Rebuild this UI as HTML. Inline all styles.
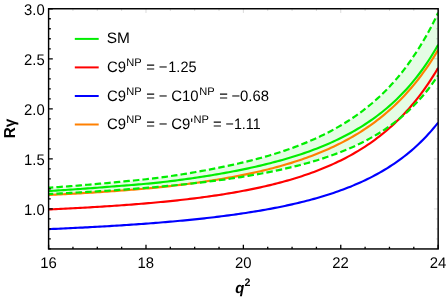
<!DOCTYPE html>
<html><head><meta charset="utf-8"><title>chart</title>
<style>
html,body{margin:0;padding:0;background:#fff;}
body{width:447px;height:298px;overflow:hidden;}
svg{display:block;}
text{font-family:"Liberation Sans",sans-serif;fill:#000;text-rendering:geometricPrecision;}
.t{font-size:15.4px;}
.s{font-size:11.0px;}
.l{font-size:15.1px;}
.b{font-weight:bold;}
</style></head><body>
<svg width="447" height="298" viewBox="0 0 447 298">
<rect x="0" y="0" width="447" height="298" fill="#ffffff"/>
<defs><clipPath id="cp"><rect x="48.6" y="8.75" width="389.54999999999995" height="240.2"/></clipPath></defs>
<g clip-path="url(#cp)" fill="none" stroke-linejoin="round">
<path d="M48.60,187.72 L51.03,187.56 L53.47,187.39 L55.90,187.22 L58.34,187.04 L60.77,186.87 L63.21,186.69 L65.64,186.51 L68.08,186.32 L70.51,186.14 L72.95,185.95 L75.38,185.76 L77.82,185.56 L80.25,185.37 L82.69,185.17 L85.12,184.97 L87.56,184.77 L89.99,184.56 L92.42,184.35 L94.86,184.14 L97.29,183.92 L99.73,183.70 L102.16,183.48 L104.60,183.26 L107.03,183.03 L109.47,182.80 L111.90,182.57 L114.34,182.34 L116.77,182.12 L119.21,181.89 L121.64,181.66 L124.08,181.43 L126.51,181.20 L128.94,180.97 L131.38,180.73 L133.81,180.49 L136.25,180.25 L138.68,180.00 L141.12,179.74 L143.55,179.49 L145.99,179.22 L148.42,178.95 L150.86,178.67 L153.29,178.38 L155.73,178.08 L158.16,177.78 L160.60,177.46 L163.03,177.14 L165.46,176.81 L167.90,176.47 L170.33,176.12 L172.77,175.77 L175.20,175.41 L177.64,175.04 L180.07,174.66 L182.51,174.27 L184.94,173.88 L187.38,173.48 L189.81,173.08 L192.25,172.66 L194.68,172.24 L197.12,171.82 L199.55,171.38 L201.99,170.94 L204.42,170.49 L206.85,170.04 L209.29,169.58 L211.72,169.11 L214.16,168.64 L216.59,168.16 L219.03,167.67 L221.46,167.17 L223.90,166.67 L226.33,166.17 L228.77,165.65 L231.20,165.13 L233.64,164.60 L236.07,164.06 L238.51,163.50 L240.94,162.94 L243.37,162.37 L245.81,161.78 L248.24,161.18 L250.68,160.57 L253.11,159.95 L255.55,159.32 L257.98,158.67 L260.42,158.01 L262.85,157.34 L265.29,156.65 L267.72,155.95 L270.16,155.23 L272.59,154.50 L275.03,153.75 L277.46,152.99 L279.90,152.21 L282.33,151.41 L284.76,150.59 L287.20,149.76 L289.63,148.91 L292.07,148.04 L294.50,147.14 L296.94,146.23 L299.37,145.30 L301.81,144.34 L304.24,143.37 L306.68,142.37 L309.11,141.34 L311.55,140.30 L313.98,139.22 L316.42,138.12 L318.85,136.99 L321.29,135.84 L323.72,134.65 L326.15,133.44 L328.59,132.19 L331.02,130.92 L333.46,129.61 L335.89,128.26 L338.33,126.88 L340.76,125.46 L343.20,124.01 L345.63,122.51 L348.07,120.97 L350.50,119.39 L352.94,117.77 L355.37,116.10 L357.81,114.38 L360.24,112.62 L362.67,110.80 L365.11,108.93 L367.54,107.00 L369.98,105.02 L372.41,102.97 L374.85,100.86 L377.28,98.69 L379.72,96.45 L382.15,94.14 L384.59,91.75 L387.02,89.29 L389.46,86.75 L391.89,84.12 L394.33,81.40 L396.76,78.60 L399.19,75.69 L401.63,72.69 L404.06,69.58 L406.50,66.36 L408.93,63.02 L411.37,59.57 L413.80,55.98 L416.24,52.29 L418.67,48.49 L421.11,44.57 L423.54,40.53 L425.98,36.34 L428.41,32.00 L430.85,27.48 L433.28,22.77 L435.72,17.85 L438.15,12.70 L438.15,75.38 L435.72,79.00 L433.28,82.46 L430.85,85.78 L428.41,88.96 L425.98,92.02 L423.54,94.95 L421.11,97.77 L418.67,100.47 L416.24,103.08 L413.80,105.58 L411.37,108.00 L408.93,110.32 L406.50,112.56 L404.06,114.72 L401.63,116.81 L399.19,118.82 L396.76,120.77 L394.33,122.65 L391.89,124.46 L389.46,126.22 L387.02,127.92 L384.59,129.56 L382.15,131.15 L379.72,132.69 L377.28,134.19 L374.85,135.63 L372.41,137.04 L369.98,138.40 L367.54,139.72 L365.11,141.00 L362.67,142.25 L360.24,143.46 L357.81,144.63 L355.37,145.78 L352.94,146.89 L350.50,147.97 L348.07,149.02 L345.63,150.04 L343.20,151.03 L340.76,152.00 L338.33,152.94 L335.89,153.86 L333.46,154.76 L331.02,155.63 L328.59,156.48 L326.15,157.31 L323.72,158.12 L321.29,158.91 L318.85,159.68 L316.42,160.43 L313.98,161.16 L311.55,161.88 L309.11,162.57 L306.68,163.26 L304.24,163.92 L301.81,164.58 L299.37,165.21 L296.94,165.83 L294.50,166.44 L292.07,167.04 L289.63,167.62 L287.20,168.19 L284.76,168.75 L282.33,169.29 L279.90,169.83 L277.46,170.35 L275.03,170.86 L272.59,171.36 L270.16,171.85 L267.72,172.33 L265.29,172.81 L262.85,173.27 L260.42,173.72 L257.98,174.16 L255.55,174.60 L253.11,175.02 L250.68,175.44 L248.24,175.85 L245.81,176.25 L243.37,176.65 L240.94,177.04 L238.51,177.42 L236.07,177.79 L233.64,178.15 L231.20,178.51 L228.77,178.87 L226.33,179.21 L223.90,179.55 L221.46,179.89 L219.03,180.21 L216.59,180.54 L214.16,180.85 L211.72,181.16 L209.29,181.47 L206.85,181.77 L204.42,182.07 L201.99,182.36 L199.55,182.64 L197.12,182.92 L194.68,183.20 L192.25,183.47 L189.81,183.74 L187.38,184.00 L184.94,184.26 L182.51,184.51 L180.07,184.76 L177.64,185.01 L175.20,185.25 L172.77,185.49 L170.33,185.73 L167.90,185.96 L165.46,186.19 L163.03,186.41 L160.60,186.63 L158.16,186.85 L155.73,187.06 L153.29,187.27 L150.86,187.48 L148.42,187.69 L145.99,187.89 L143.55,188.09 L141.12,188.28 L138.68,188.47 L136.25,188.66 L133.81,188.85 L131.38,189.04 L128.94,189.22 L126.51,189.40 L124.08,189.58 L121.64,189.75 L119.21,189.92 L116.77,190.09 L114.34,190.26 L111.90,190.42 L109.47,190.59 L107.03,190.75 L104.60,190.91 L102.16,191.06 L99.73,191.22 L97.29,191.37 L94.86,191.52 L92.42,191.67 L89.99,191.81 L87.56,191.96 L85.12,192.10 L82.69,192.24 L80.25,192.38 L77.82,192.52 L75.38,192.65 L72.95,192.79 L70.51,192.92 L68.08,193.05 L65.64,193.18 L63.21,193.30 L60.77,193.43 L58.34,193.55 L55.90,193.68 L53.47,193.80 L51.03,193.92 L48.60,194.03Z" fill="#e5fce5" stroke="none"/>
<path d="M48.60,229.14 L51.03,229.04 L53.47,228.94 L55.90,228.83 L58.34,228.72 L60.77,228.61 L63.21,228.50 L65.64,228.39 L68.08,228.27 L70.51,228.16 L72.95,228.04 L75.38,227.92 L77.82,227.80 L80.25,227.68 L82.69,227.56 L85.12,227.43 L87.56,227.31 L89.99,227.18 L92.42,227.05 L94.86,226.92 L97.29,226.78 L99.73,226.65 L102.16,226.51 L104.60,226.37 L107.03,226.23 L109.47,226.08 L111.90,225.94 L114.34,225.79 L116.77,225.64 L119.21,225.48 L121.64,225.33 L124.08,225.17 L126.51,225.01 L128.94,224.85 L131.38,224.69 L133.81,224.52 L136.25,224.35 L138.68,224.18 L141.12,224.00 L143.55,223.83 L145.99,223.65 L148.42,223.46 L150.86,223.28 L153.29,223.09 L155.73,222.90 L158.16,222.70 L160.60,222.50 L163.03,222.30 L165.46,222.10 L167.90,221.89 L170.33,221.68 L172.77,221.46 L175.20,221.25 L177.64,221.02 L180.07,220.80 L182.51,220.57 L184.94,220.34 L187.38,220.10 L189.81,219.86 L192.25,219.61 L194.68,219.36 L197.12,219.11 L199.55,218.85 L201.99,218.59 L204.42,218.32 L206.85,218.05 L209.29,217.77 L211.72,217.49 L214.16,217.20 L216.59,216.91 L219.03,216.61 L221.46,216.30 L223.90,216.00 L226.33,215.68 L228.77,215.36 L231.20,215.03 L233.64,214.70 L236.07,214.36 L238.51,214.01 L240.94,213.66 L243.37,213.30 L245.81,212.94 L248.24,212.56 L250.68,212.18 L253.11,211.79 L255.55,211.40 L257.98,210.99 L260.42,210.58 L262.85,210.16 L265.29,209.73 L267.72,209.29 L270.16,208.84 L272.59,208.38 L275.03,207.92 L277.46,207.44 L279.90,206.95 L282.33,206.45 L284.76,205.94 L287.20,205.42 L289.63,204.89 L292.07,204.35 L294.50,203.79 L296.94,203.23 L299.37,202.65 L301.81,202.05 L304.24,201.44 L306.68,200.82 L309.11,200.19 L311.55,199.53 L313.98,198.87 L316.42,198.19 L318.85,197.49 L321.29,196.77 L323.72,196.04 L326.15,195.28 L328.59,194.51 L331.02,193.72 L333.46,192.91 L335.89,192.08 L338.33,191.23 L340.76,190.36 L343.20,189.46 L345.63,188.54 L348.07,187.60 L350.50,186.63 L352.94,185.63 L355.37,184.61 L357.81,183.56 L360.24,182.47 L362.67,181.36 L365.11,180.22 L367.54,179.05 L369.98,177.84 L372.41,176.59 L374.85,175.31 L377.28,173.99 L379.72,172.64 L382.15,171.24 L384.59,169.80 L387.02,168.31 L389.46,166.78 L391.89,165.20 L394.33,163.57 L396.76,161.89 L399.19,160.15 L401.63,158.36 L404.06,156.50 L406.50,154.59 L408.93,152.61 L411.37,150.56 L413.80,148.45 L416.24,146.26 L418.67,143.99 L421.11,141.64 L423.54,139.20 L425.98,136.68 L428.41,134.07 L430.85,131.35 L433.28,128.53 L435.72,125.61 L438.15,122.57" stroke="#0000ff" stroke-width="2.15"/>
<path d="M48.60,209.42 L51.03,209.31 L53.47,209.20 L55.90,209.09 L58.34,208.97 L60.77,208.86 L63.21,208.74 L65.64,208.62 L68.08,208.50 L70.51,208.38 L72.95,208.26 L75.38,208.13 L77.82,208.00 L80.25,207.87 L82.69,207.74 L85.12,207.60 L87.56,207.47 L89.99,207.33 L92.42,207.19 L94.86,207.04 L97.29,206.90 L99.73,206.75 L102.16,206.60 L104.60,206.44 L107.03,206.29 L109.47,206.13 L111.90,205.96 L114.34,205.80 L116.77,205.63 L119.21,205.46 L121.64,205.29 L124.08,205.11 L126.51,204.93 L128.94,204.75 L131.38,204.56 L133.81,204.37 L136.25,204.18 L138.68,203.99 L141.12,203.79 L143.55,203.58 L145.99,203.38 L148.42,203.17 L150.86,202.95 L153.29,202.73 L155.73,202.51 L158.16,202.28 L160.60,202.05 L163.03,201.82 L165.46,201.58 L167.90,201.33 L170.33,201.08 L172.77,200.83 L175.20,200.57 L177.64,200.31 L180.07,200.04 L182.51,199.77 L184.94,199.49 L187.38,199.20 L189.81,198.91 L192.25,198.62 L194.68,198.32 L197.12,198.01 L199.55,197.70 L201.99,197.38 L204.42,197.05 L206.85,196.72 L209.29,196.38 L211.72,196.03 L214.16,195.68 L216.59,195.32 L219.03,194.95 L221.46,194.57 L223.90,194.19 L226.33,193.79 L228.77,193.39 L231.20,192.99 L233.64,192.57 L236.07,192.14 L238.51,191.71 L240.94,191.26 L243.37,190.81 L245.81,190.34 L248.24,189.87 L250.68,189.38 L253.11,188.88 L255.55,188.38 L257.98,187.86 L260.42,187.33 L262.85,186.78 L265.29,186.23 L267.72,185.66 L270.16,185.08 L272.59,184.49 L275.03,183.88 L277.46,183.26 L279.90,182.62 L282.33,181.97 L284.76,181.30 L287.20,180.62 L289.63,179.92 L292.07,179.20 L294.50,178.47 L296.94,177.72 L299.37,176.95 L301.81,176.16 L304.24,175.35 L306.68,174.52 L309.11,173.67 L311.55,172.80 L313.98,171.91 L316.42,170.99 L318.85,170.05 L321.29,169.09 L323.72,168.10 L326.15,167.09 L328.59,166.05 L331.02,164.98 L333.46,163.88 L335.89,162.75 L338.33,161.59 L340.76,160.41 L343.20,159.19 L345.63,157.93 L348.07,156.64 L350.50,155.32 L352.94,153.95 L355.37,152.55 L357.81,151.11 L360.24,149.63 L362.67,148.11 L365.11,146.54 L367.54,144.93 L369.98,143.27 L372.41,141.56 L374.85,139.80 L377.28,137.98 L379.72,136.12 L382.15,134.19 L384.59,132.21 L387.02,130.17 L389.46,128.06 L391.89,125.89 L394.33,123.65 L396.76,121.33 L399.19,118.95 L401.63,116.49 L404.06,113.95 L406.50,111.32 L408.93,108.61 L411.37,105.81 L413.80,102.92 L416.24,99.93 L418.67,96.84 L421.11,93.64 L423.54,90.34 L425.98,86.92 L428.41,83.38 L430.85,79.72 L433.28,75.92 L435.72,71.99 L438.15,67.92" stroke="#ff0000" stroke-width="2.15"/>
<path d="M48.60,195.01 L51.03,194.89 L53.47,194.77 L55.90,194.65 L58.34,194.52 L60.77,194.40 L63.21,194.27 L65.64,194.14 L68.08,194.01 L70.51,193.87 L72.95,193.74 L75.38,193.60 L77.82,193.46 L80.25,193.32 L82.69,193.18 L85.12,193.03 L87.56,192.88 L89.99,192.73 L92.42,192.58 L94.86,192.42 L97.29,192.26 L99.73,192.10 L102.16,191.94 L104.60,191.77 L107.03,191.61 L109.47,191.44 L111.90,191.26 L114.34,191.09 L116.77,190.91 L119.21,190.73 L121.64,190.55 L124.08,190.37 L126.51,190.18 L128.94,189.99 L131.38,189.79 L133.81,189.60 L136.25,189.40 L138.68,189.19 L141.12,188.98 L143.55,188.77 L145.99,188.55 L148.42,188.33 L150.86,188.10 L153.29,187.87 L155.73,187.63 L158.16,187.38 L160.60,187.14 L163.03,186.88 L165.46,186.62 L167.90,186.35 L170.33,186.08 L172.77,185.80 L175.20,185.51 L177.64,185.22 L180.07,184.92 L182.51,184.62 L184.94,184.32 L187.38,184.00 L189.81,183.68 L192.25,183.36 L194.68,183.03 L197.12,182.69 L199.55,182.35 L201.99,182.00 L204.42,181.65 L206.85,181.28 L209.29,180.91 L211.72,180.54 L214.16,180.15 L216.59,179.76 L219.03,179.36 L221.46,178.95 L223.90,178.54 L226.33,178.11 L228.77,177.68 L231.20,177.24 L233.64,176.79 L236.07,176.33 L238.51,175.86 L240.94,175.39 L243.37,174.90 L245.81,174.40 L248.24,173.89 L250.68,173.37 L253.11,172.84 L255.55,172.30 L257.98,171.75 L260.42,171.19 L262.85,170.61 L265.29,170.02 L267.72,169.42 L270.16,168.80 L272.59,168.17 L275.03,167.53 L277.46,166.87 L279.90,166.20 L282.33,165.51 L284.76,164.81 L287.20,164.09 L289.63,163.36 L292.07,162.61 L294.50,161.84 L296.94,161.05 L299.37,160.24 L301.81,159.42 L304.24,158.57 L306.68,157.71 L309.11,156.82 L311.55,155.92 L313.98,154.99 L316.42,154.03 L318.85,153.06 L321.29,152.06 L323.72,151.04 L326.15,149.99 L328.59,148.91 L331.02,147.80 L333.46,146.67 L335.89,145.51 L338.33,144.32 L340.76,143.09 L343.20,141.84 L345.63,140.55 L348.07,139.23 L350.50,137.87 L352.94,136.47 L355.37,135.04 L357.81,133.57 L360.24,132.06 L362.67,130.50 L365.11,128.90 L367.54,127.26 L369.98,125.57 L372.41,123.83 L374.85,122.04 L377.28,120.20 L379.72,118.31 L382.15,116.36 L384.59,114.35 L387.02,112.28 L389.46,110.15 L391.89,107.96 L394.33,105.70 L396.76,103.36 L399.19,100.96 L401.63,98.48 L404.06,95.92 L406.50,93.28 L408.93,90.56 L411.37,87.75 L413.80,84.84 L416.24,81.85 L418.67,78.75 L421.11,75.54 L423.54,72.23 L425.98,68.81 L428.41,65.27 L430.85,61.61 L433.28,57.82 L435.72,53.89 L438.15,49.83" stroke="#ff8000" stroke-width="2.15"/>
<path d="M48.60,191.00 L51.03,190.85 L53.47,190.71 L55.90,190.56 L58.34,190.41 L60.77,190.26 L63.21,190.10 L65.64,189.95 L68.08,189.79 L70.51,189.63 L72.95,189.46 L75.38,189.30 L77.82,189.13 L80.25,188.96 L82.69,188.79 L85.12,188.62 L87.56,188.44 L89.99,188.26 L92.42,188.08 L94.86,187.90 L97.29,187.71 L99.73,187.52 L102.16,187.33 L104.60,187.14 L107.03,186.94 L109.47,186.75 L111.90,186.55 L114.34,186.36 L116.77,186.17 L119.21,185.98 L121.64,185.79 L124.08,185.61 L126.51,185.42 L128.94,185.22 L131.38,185.03 L133.81,184.83 L136.25,184.64 L138.68,184.43 L141.12,184.22 L143.55,184.01 L145.99,183.79 L148.42,183.56 L150.86,183.33 L153.29,183.09 L155.73,182.84 L158.16,182.58 L160.60,182.31 L163.03,182.03 L165.46,181.75 L167.90,181.46 L170.33,181.16 L172.77,180.86 L175.20,180.56 L177.64,180.24 L180.07,179.92 L182.51,179.60 L184.94,179.27 L187.38,178.93 L189.81,178.59 L192.25,178.24 L194.68,177.88 L197.12,177.52 L199.55,177.15 L201.99,176.78 L204.42,176.40 L206.85,176.01 L209.29,175.62 L211.72,175.22 L214.16,174.81 L216.59,174.40 L219.03,173.98 L221.46,173.55 L223.90,173.12 L226.33,172.68 L228.77,172.23 L231.20,171.78 L233.64,171.31 L236.07,170.84 L238.51,170.36 L240.94,169.87 L243.37,169.37 L245.81,168.86 L248.24,168.34 L250.68,167.81 L253.11,167.27 L255.55,166.71 L257.98,166.15 L260.42,165.58 L262.85,165.00 L265.29,164.41 L267.72,163.80 L270.16,163.18 L272.59,162.56 L275.03,161.91 L277.46,161.26 L279.90,160.59 L282.33,159.92 L284.76,159.22 L287.20,158.52 L289.63,157.79 L292.07,157.06 L294.50,156.30 L296.94,155.53 L299.37,154.74 L301.81,153.94 L304.24,153.11 L306.68,152.27 L309.11,151.40 L311.55,150.52 L313.98,149.61 L316.42,148.69 L318.85,147.74 L321.29,146.76 L323.72,145.77 L326.15,144.75 L328.59,143.70 L331.02,142.63 L333.46,141.53 L335.89,140.40 L338.33,139.24 L340.76,138.05 L343.20,136.83 L345.63,135.58 L348.07,134.30 L350.50,132.98 L352.94,131.62 L355.37,130.23 L357.81,128.80 L360.24,127.33 L362.67,125.81 L365.11,124.26 L367.54,122.66 L369.98,121.01 L372.41,119.31 L374.85,117.56 L377.28,115.76 L379.72,113.91 L382.15,111.99 L384.59,110.02 L387.02,107.99 L389.46,105.89 L391.89,103.73 L394.33,101.49 L396.76,99.19 L399.19,96.80 L401.63,94.34 L404.06,91.79 L406.50,89.15 L408.93,86.42 L411.37,83.60 L413.80,80.68 L416.24,77.65 L418.67,74.51 L421.11,71.26 L423.54,67.88 L425.98,64.38 L428.41,60.74 L430.85,56.96 L433.28,53.03 L435.72,48.95 L438.15,44.70" stroke="#00ee00" stroke-width="2.15"/>
<path d="M48.60,187.72 L51.03,187.56 L53.47,187.39 L55.90,187.22 L58.34,187.04 L60.77,186.87 L63.21,186.69 L65.64,186.51 L68.08,186.32 L70.51,186.14 L72.95,185.95 L75.38,185.76 L77.82,185.56 L80.25,185.37 L82.69,185.17 L85.12,184.97 L87.56,184.77 L89.99,184.56 L92.42,184.35 L94.86,184.14 L97.29,183.92 L99.73,183.70 L102.16,183.48 L104.60,183.26 L107.03,183.03 L109.47,182.80 L111.90,182.57 L114.34,182.34 L116.77,182.12 L119.21,181.89 L121.64,181.66 L124.08,181.43 L126.51,181.20 L128.94,180.97 L131.38,180.73 L133.81,180.49 L136.25,180.25 L138.68,180.00 L141.12,179.74 L143.55,179.49 L145.99,179.22 L148.42,178.95 L150.86,178.67 L153.29,178.38 L155.73,178.08 L158.16,177.78 L160.60,177.46 L163.03,177.14 L165.46,176.81 L167.90,176.47 L170.33,176.12 L172.77,175.77 L175.20,175.41 L177.64,175.04 L180.07,174.66 L182.51,174.27 L184.94,173.88 L187.38,173.48 L189.81,173.08 L192.25,172.66 L194.68,172.24 L197.12,171.82 L199.55,171.38 L201.99,170.94 L204.42,170.49 L206.85,170.04 L209.29,169.58 L211.72,169.11 L214.16,168.64 L216.59,168.16 L219.03,167.67 L221.46,167.17 L223.90,166.67 L226.33,166.17 L228.77,165.65 L231.20,165.13 L233.64,164.60 L236.07,164.06 L238.51,163.50 L240.94,162.94 L243.37,162.37 L245.81,161.78 L248.24,161.18 L250.68,160.57 L253.11,159.95 L255.55,159.32 L257.98,158.67 L260.42,158.01 L262.85,157.34 L265.29,156.65 L267.72,155.95 L270.16,155.23 L272.59,154.50 L275.03,153.75 L277.46,152.99 L279.90,152.21 L282.33,151.41 L284.76,150.59 L287.20,149.76 L289.63,148.91 L292.07,148.04 L294.50,147.14 L296.94,146.23 L299.37,145.30 L301.81,144.34 L304.24,143.37 L306.68,142.37 L309.11,141.34 L311.55,140.30 L313.98,139.22 L316.42,138.12 L318.85,136.99 L321.29,135.84 L323.72,134.65 L326.15,133.44 L328.59,132.19 L331.02,130.92 L333.46,129.61 L335.89,128.26 L338.33,126.88 L340.76,125.46 L343.20,124.01 L345.63,122.51 L348.07,120.97 L350.50,119.39 L352.94,117.77 L355.37,116.10 L357.81,114.38 L360.24,112.62 L362.67,110.80 L365.11,108.93 L367.54,107.00 L369.98,105.02 L372.41,102.97 L374.85,100.86 L377.28,98.69 L379.72,96.45 L382.15,94.14 L384.59,91.75 L387.02,89.29 L389.46,86.75 L391.89,84.12 L394.33,81.40 L396.76,78.60 L399.19,75.69 L401.63,72.69 L404.06,69.58 L406.50,66.36 L408.93,63.02 L411.37,59.57 L413.80,55.98 L416.24,52.29 L418.67,48.49 L421.11,44.57 L423.54,40.53 L425.98,36.34 L428.41,32.00 L430.85,27.48 L433.28,22.77 L435.72,17.85 L438.15,12.70" stroke="#00ee00" stroke-width="2.2" stroke-dasharray="6.5 3.1" stroke-dashoffset="1.8"/>
<path d="M48.60,194.03 L51.03,193.92 L53.47,193.80 L55.90,193.68 L58.34,193.55 L60.77,193.43 L63.21,193.30 L65.64,193.18 L68.08,193.05 L70.51,192.92 L72.95,192.79 L75.38,192.65 L77.82,192.52 L80.25,192.38 L82.69,192.24 L85.12,192.10 L87.56,191.96 L89.99,191.81 L92.42,191.67 L94.86,191.52 L97.29,191.37 L99.73,191.22 L102.16,191.06 L104.60,190.91 L107.03,190.75 L109.47,190.59 L111.90,190.42 L114.34,190.26 L116.77,190.09 L119.21,189.92 L121.64,189.75 L124.08,189.58 L126.51,189.40 L128.94,189.22 L131.38,189.04 L133.81,188.85 L136.25,188.66 L138.68,188.47 L141.12,188.28 L143.55,188.09 L145.99,187.89 L148.42,187.69 L150.86,187.48 L153.29,187.27 L155.73,187.06 L158.16,186.85 L160.60,186.63 L163.03,186.41 L165.46,186.19 L167.90,185.96 L170.33,185.73 L172.77,185.49 L175.20,185.25 L177.64,185.01 L180.07,184.76 L182.51,184.51 L184.94,184.26 L187.38,184.00 L189.81,183.74 L192.25,183.47 L194.68,183.20 L197.12,182.92 L199.55,182.64 L201.99,182.36 L204.42,182.07 L206.85,181.77 L209.29,181.47 L211.72,181.16 L214.16,180.85 L216.59,180.54 L219.03,180.21 L221.46,179.89 L223.90,179.55 L226.33,179.21 L228.77,178.87 L231.20,178.51 L233.64,178.15 L236.07,177.79 L238.51,177.42 L240.94,177.04 L243.37,176.65 L245.81,176.25 L248.24,175.85 L250.68,175.44 L253.11,175.02 L255.55,174.60 L257.98,174.16 L260.42,173.72 L262.85,173.27 L265.29,172.81 L267.72,172.33 L270.16,171.85 L272.59,171.36 L275.03,170.86 L277.46,170.35 L279.90,169.83 L282.33,169.29 L284.76,168.75 L287.20,168.19 L289.63,167.62 L292.07,167.04 L294.50,166.44 L296.94,165.83 L299.37,165.21 L301.81,164.58 L304.24,163.92 L306.68,163.26 L309.11,162.57 L311.55,161.88 L313.98,161.16 L316.42,160.43 L318.85,159.68 L321.29,158.91 L323.72,158.12 L326.15,157.31 L328.59,156.48 L331.02,155.63 L333.46,154.76 L335.89,153.86 L338.33,152.94 L340.76,152.00 L343.20,151.03 L345.63,150.04 L348.07,149.02 L350.50,147.97 L352.94,146.89 L355.37,145.78 L357.81,144.63 L360.24,143.46 L362.67,142.25 L365.11,141.00 L367.54,139.72 L369.98,138.40 L372.41,137.04 L374.85,135.63 L377.28,134.19 L379.72,132.69 L382.15,131.15 L384.59,129.56 L387.02,127.92 L389.46,126.22 L391.89,124.46 L394.33,122.65 L396.76,120.77 L399.19,118.82 L401.63,116.81 L404.06,114.72 L406.50,112.56 L408.93,110.32 L411.37,108.00 L413.80,105.58 L416.24,103.08 L418.67,100.47 L421.11,97.77 L423.54,94.95 L425.98,92.02 L428.41,88.96 L430.85,85.78 L433.28,82.46 L435.72,79.00 L438.15,75.38" stroke="#00ee00" stroke-width="2.2" stroke-dasharray="6.5 3.1" stroke-dashoffset="1.8"/>
</g>

<path d="M48.6,248.95h2.2 M48.6,238.94h2.2 M48.6,228.93h2.2 M48.6,218.92h2.2 M48.6,208.92h4.2 M48.6,198.91h2.2 M48.6,188.90h2.2 M48.6,178.89h2.2 M48.6,168.88h2.2 M48.6,158.88h4.2 M48.6,148.87h2.2 M48.6,138.86h2.2 M48.6,128.85h2.2 M48.6,118.84h2.2 M48.6,108.83h4.2 M48.6,98.82h2.2 M48.6,88.82h2.2 M48.6,78.81h2.2 M48.6,68.80h2.2 M48.6,58.79h4.2 M48.6,48.78h2.2 M48.6,38.77h2.2 M48.6,28.77h2.2 M48.6,18.76h2.2 M48.6,8.75h4.2 M48.60,248.95v-4.2 M72.95,248.95v-2.2 M97.29,248.95v-2.2 M121.64,248.95v-2.2 M145.99,248.95v-4.2 M170.33,248.95v-2.2 M194.68,248.95v-2.2 M219.03,248.95v-2.2 M243.37,248.95v-4.2 M267.72,248.95v-2.2 M292.07,248.95v-2.2 M316.42,248.95v-2.2 M340.76,248.95v-4.2 M365.11,248.95v-2.2 M389.46,248.95v-2.2 M413.80,248.95v-2.2 M438.15,248.95v-4.2" stroke="#000" stroke-width="1.3" fill="none"/>
<path d="M438.15,248.95h-2.2 M438.15,238.94h-2.2 M438.15,228.93h-2.2 M438.15,218.92h-2.2 M438.15,208.92h-4.2 M438.15,198.91h-2.2 M438.15,188.90h-2.2 M438.15,178.89h-2.2 M438.15,168.88h-2.2 M438.15,158.88h-4.2 M438.15,148.87h-2.2 M438.15,138.86h-2.2 M438.15,128.85h-2.2 M438.15,118.84h-2.2 M438.15,108.83h-4.2 M438.15,98.82h-2.2 M438.15,88.82h-2.2 M438.15,78.81h-2.2 M438.15,68.80h-2.2 M438.15,58.79h-4.2 M438.15,48.78h-2.2 M438.15,38.77h-2.2 M438.15,28.77h-2.2 M438.15,18.76h-2.2 M438.15,8.75h-4.2 M48.60,8.75v4.2 M72.95,8.75v2.2 M97.29,8.75v2.2 M121.64,8.75v2.2 M145.99,8.75v4.2 M170.33,8.75v2.2 M194.68,8.75v2.2 M219.03,8.75v2.2 M243.37,8.75v4.2 M267.72,8.75v2.2 M292.07,8.75v2.2 M316.42,8.75v2.2 M340.76,8.75v4.2 M365.11,8.75v2.2 M389.46,8.75v2.2 M413.80,8.75v2.2 M438.15,8.75v4.2" stroke="#000" stroke-opacity="0.25" stroke-width="0.6" fill="none"/>
<rect x="48.6" y="8.75" width="389.54999999999995" height="240.2" fill="none" stroke="#000" stroke-width="1.45"/>
<g opacity="0.999">
<text class="t" transform="translate(44.7,214.82) scale(0.966,1)" text-anchor="end">1.0</text>
<text class="t" transform="translate(44.7,164.78) scale(0.966,1)" text-anchor="end">1.5</text>
<text class="t" transform="translate(44.7,114.73) scale(0.966,1)" text-anchor="end">2.0</text>
<text class="t" transform="translate(44.7,64.69) scale(0.966,1)" text-anchor="end">2.5</text>
<text class="t" transform="translate(44.7,14.65) scale(0.966,1)" text-anchor="end">3.0</text>
<text class="t" transform="translate(48.40,267.6) scale(0.966,1)" text-anchor="middle">16</text>
<text class="t" transform="translate(145.79,267.6) scale(0.966,1)" text-anchor="middle">18</text>
<text class="t" transform="translate(243.17,267.6) scale(0.966,1)" text-anchor="middle">20</text>
<text class="t" transform="translate(340.56,267.6) scale(0.966,1)" text-anchor="middle">22</text>
<text class="t" transform="translate(437.95,267.6) scale(0.966,1)" text-anchor="middle">24</text>
<text class="t b" transform="translate(14.9,128.5) rotate(-90) scale(0.966,1)" style="font-size:15.9px" text-anchor="middle">Rγ</text>
<text class="t b" transform="translate(235.3,293.0) scale(0.966,1)" font-style="italic">q</text>
<text class="s b" transform="translate(244.6,286.3) scale(0.966,1)">2</text>
<path d="M74.8,38.9H98.7" stroke="#00ee00" stroke-width="2" fill="none"/>
<path d="M74.8,67.4H98.7" stroke="#ff0000" stroke-width="2" fill="none"/>
<path d="M74.8,96.0H98.7" stroke="#0000ff" stroke-width="2" fill="none"/>
<path d="M74.8,124.5H98.7" stroke="#ff8000" stroke-width="2" fill="none"/>
<text class="l" transform="translate(106.8,43.40) scale(1.0244,1)">SM</text>
<text class="l" transform="translate(106.9,72.10) scale(0.9850,1)">C9</text>
<text class="s" transform="translate(126.2,65.90) scale(1.0100,1)">NP</text>
<text class="l" transform="translate(146.2,72.10) scale(0.9850,1)">=</text>
<text class="l" transform="translate(158.8,72.10) scale(0.9850,1)">−</text>
<text class="l" transform="translate(168.3,72.10) scale(0.9604,1)">1.25</text>
<text class="l" transform="translate(106.9,100.80) scale(0.9850,1)">C9</text>
<text class="s" transform="translate(126.2,94.60) scale(1.0100,1)">NP</text>
<text class="l" transform="translate(146.2,100.80) scale(0.9850,1)">=</text>
<text class="l" transform="translate(158.8,100.80) scale(0.9850,1)">−</text>
<text class="l" transform="translate(171.2,100.80) scale(0.9850,1)">C10</text>
<text class="s" transform="translate(199.3,94.60) scale(1.0100,1)">NP</text>
<text class="l" transform="translate(219.3,100.80) scale(0.9850,1)">=</text>
<text class="l" transform="translate(231.4,100.80) scale(0.9850,1)">−0.68</text>
<text class="l" transform="translate(106.9,129.40) scale(0.9850,1)">C9</text>
<text class="s" transform="translate(126.2,123.20) scale(1.0100,1)">NP</text>
<text class="l" transform="translate(146.2,129.40) scale(0.9850,1)">=</text>
<text class="l" transform="translate(158.8,129.40) scale(0.9850,1)">−</text>
<text class="l" transform="translate(171.3,129.40) scale(0.9850,1)">C9'</text>
<text class="s" transform="translate(193.4,123.20) scale(1.0100,1)">NP</text>
<text class="l" transform="translate(212.9,129.40) scale(0.9850,1)">=</text>
<text class="l" transform="translate(225.6,129.40) scale(0.9456,1)">−1.11</text>
</g>
</svg></body></html>
